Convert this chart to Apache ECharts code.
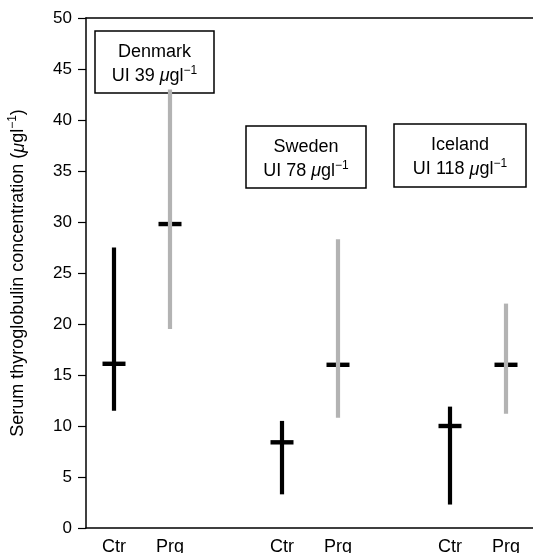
<!DOCTYPE html>
<html>
<head>
<meta charset="utf-8">
<script src="https://cdn.jsdelivr.net/npm/echarts@6/dist/echarts.min.js"></script>
<style>
  html, body { margin: 0; padding: 0; background: #fff; }
  #chart { width: 533px; height: 553px; }
</style>
</head>
<body>
<div id="chart"></div>
<script>
// blank categories keep the gaps between the countries
const categories = ['Ctr', 'Prg', '', 'Ctr', 'Prg', '', 'Ctr', 'Prg']
const lows = [11.5, 19.5, null, 3.3, 10.8, null, 2.3, 11.2]
const highs = [27.5, 43, null, 10.5, 28.3, null, 11.9, 22.0]
const medians = [16.1, 29.8, null, 8.4, 16.0, null, 10.0, 16.0]
const yTicks = [0, 5, 10, 15, 20, 25, 30, 35, 40, 45, 50]

const countries = [
  { name: 'Denmark', ui: '39' },
  { name: 'Sweden', ui: '78' },
  { name: 'Iceland', ui: '118' }
]

const black = '#000'
const grey = '#b3b3b3'
const font = 'Liberation Sans, Arial, sans-serif'

const rangeData = []
categories.forEach((c, i) => {
  if (lows[i] == null) return
  rangeData.push([i, lows[i], highs[i], medians[i]])
})

const chart = echarts.init(document.getElementById('chart'))

const boxRich = {
  mu: { fontStyle: 'italic', fontSize: 18, fontFamily: font, color: '#000' },
  sup: { fontSize: 12, fontFamily: font, color: '#000', padding: [0, 0, 11, 0] }
}

// label boxes, placed by hand like the original annotations
const boxPos = [
  { x: 95, y: 31, w: 119, h: 62 },
  { x: 246, y: 126, w: 120, h: 62 },
  { x: 394, y: 124, w: 132, h: 63 }
]

const graphics = countries.map((c, i) => {
  const b = boxPos[i]
  return {
    type: 'group',
    z: 100,
    children: [
      {
        type: 'rect',
        shape: { x: b.x, y: b.y, width: b.w, height: b.h },
        style: { fill: '#fff', stroke: '#000', lineWidth: 1.5 }
      },
      {
        type: 'text',
        x: b.x + b.w / 2,
        y: b.y + b.h / 2 + 2,
        style: {
          text: c.name + '\nUI ' + c.ui + ' {mu|μ}gl{sup|−1}',
          fontSize: 18,
          fontFamily: font,
          fill: '#000',
          align: 'center',
          verticalAlign: 'middle',
          lineHeight: 24,
          rich: boxRich
        }
      }
    ]
  }
})

chart.setOption({
  backgroundColor: '#fff',
  animation: false,
  grid: {
    left: 86,
    right: -1,
    top: 18,
    bottom: 25,
    outerBoundsMode: 'none',
    containLabel: false
  },
  xAxis: [{
    type: 'category',
    data: categories,
    boundaryGap: true,
    axisLine: { lineStyle: { color: '#000', width: 1.5 } },
    axisTick: { show: false },
    axisLabel: {
      interval: 0,
      color: '#000',
      fontSize: 18,
      fontFamily: font,
      margin: 10
    },
    splitLine: { show: false }
  }, {
    // top frame line only
    type: 'category',
    position: 'top',
    data: categories,
    axisLine: { lineStyle: { color: '#000', width: 1.5 } },
    axisTick: { show: false },
    axisLabel: { show: false },
    splitLine: { show: false }
  }],
  yAxis: {
    type: 'value',
    min: yTicks[0],
    max: yTicks[yTicks.length - 1],
    interval: 5,
    name: 'Serum thyroglobulin concentration ({mu|μ}gl{sup|−1})',
    nameLocation: 'middle',
    nameGap: 56,
    nameTextStyle: {
      fontSize: 18,
      fontFamily: font,
      color: '#000',
      rich: {
        mu: { fontStyle: 'italic', fontSize: 18, fontFamily: font, color: '#000' },
        sup: { fontSize: 12, fontFamily: font, color: '#000', padding: [0, 0, 11, 0] }
      }
    },
    axisLine: { show: true, lineStyle: { color: '#000', width: 1.5 } },
    axisTick: { show: true, inside: false, length: 8, lineStyle: { color: '#000', width: 1.2 } },
    axisLabel: { color: '#000', fontSize: 17, fontFamily: font, margin: 14 },
    splitLine: { show: false }
  },
  graphic: graphics,
  series: [{
    type: 'custom',
    data: rangeData,
    encode: { x: 0, y: [1, 2, 3] },
    renderItem: function(params, api) {
      const idx = api.value(0)
      const low = api.coord([idx, api.value(1)])
      const high = api.coord([idx, api.value(2)])
      const mid = api.coord([idx, api.value(3)])
      const color = categories[idx] === 'Prg' ? grey : black
      return {
        type: 'group',
        children: [
          {
            type: 'rect',
            shape: { x: mid[0] - 11.5, y: mid[1] - 2.2, width: 23, height: 4.4 },
            style: { fill: black }
          },
          {
            type: 'rect',
            shape: { x: low[0] - 2.1, y: high[1], width: 4.2, height: low[1] - high[1] },
            style: { fill: color }
          }
        ]
      }
    }
  }]
})
</script>
</body>
</html>
